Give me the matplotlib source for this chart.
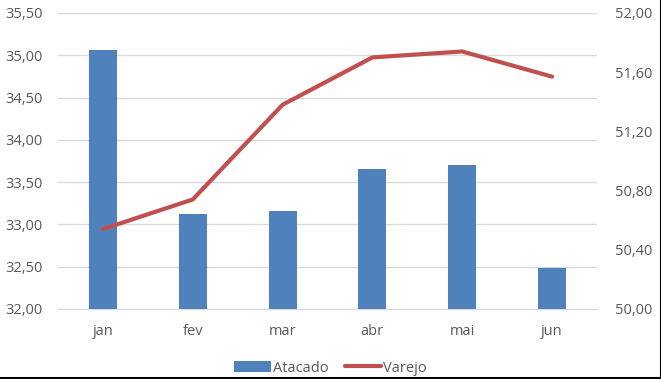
import matplotlib
matplotlib.use("Agg")
import matplotlib.pyplot as plt
from matplotlib.ticker import FuncFormatter, MultipleLocator
from matplotlib.lines import Line2D
import numpy as np

categories = ["jan", "fev", "mar", "abr", "mai", "jun"]
atacado = [35.06, 33.12, 33.16, 33.66, 33.70, 32.49]
varejo = [50.54, 50.74, 51.38, 51.70, 51.74, 51.57]

plt.rcParams['font.family'] = ['Open Sans', 'DejaVu Sans']
txt = "#595959"
grid = "#d9d9d9"
blue = "#4f81bd"
red = "#c0504d"
fs = 10.5

fig = plt.figure(figsize=(6.61, 3.79), dpi=100)
ax = fig.add_axes([58/661, 1-309/379, (597-58)/661, (309-13)/379])
ax2 = ax.twinx()

x = np.arange(len(categories))
ax.bar(x, atacado, width=0.31, color=blue, zorder=2, label="Atacado")
ax2.plot(x, varejo, color=red, lw=3, solid_capstyle="round", zorder=3, label="Varejo")

ax.set_xlim(-0.5, len(categories)-0.5)
ax.set_ylim(32, 35.5)
ax2.set_ylim(50, 52)
ax.yaxis.set_major_locator(MultipleLocator(0.5))
ax2.yaxis.set_major_locator(MultipleLocator(0.4))
fmt = FuncFormatter(lambda v, p: f"{v:.2f}".replace(".", ","))
ax.yaxis.set_major_formatter(fmt)
ax2.yaxis.set_major_formatter(fmt)
ax.set_xticks(x)
ax.set_xticklabels(categories)

ax.grid(axis="y", color=grid, lw=1, zorder=0)
ax.set_axisbelow(True)
for a in (ax, ax2):
    for s in a.spines.values():
        s.set_visible(False)
ax.spines["bottom"].set_visible(True)
ax.spines["bottom"].set_color(grid)
ax.tick_params(axis="both", length=0, colors=txt, labelsize=fs)
ax.tick_params(axis="y", pad=11)
ax.tick_params(axis="x", pad=11)
ax2.tick_params(axis="y", length=0, colors=txt, labelsize=fs, pad=13)
ax.set_zorder(1)
ax2.set_zorder(2)
ax.patch.set_visible(False)

h1, l1 = ax.get_legend_handles_labels()
h2, l2 = ax2.get_legend_handles_labels()
fig.legend(h1+h2, l1+l2, loc="center", bbox_to_anchor=(0.5, 1-368/379), ncol=2,
           frameon=False, fontsize=fs, labelcolor=txt, handlelength=2.5,
           handletextpad=0.15, columnspacing=1.1)

fig.add_artist(Line2D([0, 1, 1], [0.002, 0.002, 1], transform=fig.transFigure, color="black", lw=1.5))

fig.savefig("out.png", dpi=100)
